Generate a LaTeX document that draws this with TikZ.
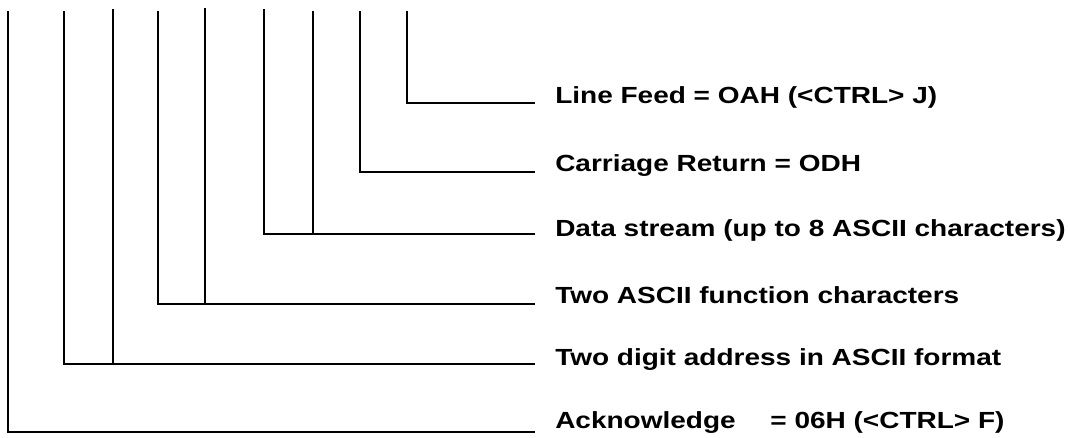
\documentclass[tikz,border=0pt]{standalone}
\usepackage{fontspec}
\newfontfamily\labelfont[FakeStretch=1.2]{Liberation Sans}
\begin{document}
\begin{tikzpicture}[x=0.75pt,y=-0.75pt,
  wire/.style={line width=1.5pt},
  lbl/.style={anchor=base west,inner sep=0pt,
    font=\labelfont\bfseries\fontsize{17.5}{21}\selectfont}]
\useasboundingbox (0,0) rectangle (1070,438);

% field tops (upper ends of the vertical markers)
\coordinate (lf-a)   at (407,11);
\coordinate (cr-a)   at (360,11);
\coordinate (dat-a)  at (264,9);
\coordinate (dat-b)  at (313,11);
\coordinate (fn-a)   at (158,11);
\coordinate (fn-b)   at (205,8);
\coordinate (adr-a)  at (64,11);
\coordinate (adr-b)  at (113,9);
\coordinate (ack-a)  at (7.5,11);

% right ends of the leader lines
\coordinate (lf-e)  at (535,103.5);
\coordinate (cr-e)  at (535,172.5);
\coordinate (dat-e) at (535,234);
\coordinate (fn-e)  at (535,303.5);
\coordinate (adr-e) at (535,363.5);
\coordinate (ack-e) at (535,431.5);

% labels
\node[lbl] (lf)  at (555,104) {Line Feed = OAH (<CTRL> J)};
\node[lbl] (cr)  at (555,172) {Carriage Return = ODH};
\node[lbl] (dat) at (555,237) {Data stream (up to 8 ASCII characters)};
\node[lbl] (fn)  at (555,303) {Two ASCII function characters};
\node[lbl] (adr) at (555,365) {Two digit address in ASCII format};
\node[lbl] (ack) at (555,428) {Acknowledge\hspace{26pt}= 06H (<CTRL> F)};

% leaders
\draw[wire] (lf-a) |- (lf-e);
\draw[wire] (cr-a) |- (cr-e);
\draw[wire] (dat-a) |- (dat-e);
\draw[wire] (dat-b) -- (dat-b |- dat-e);
\draw[wire] (fn-a) |- (fn-e);
\draw[wire] (fn-b) -- (fn-b |- fn-e);
\draw[wire] (adr-a) |- (adr-e);
\draw[wire] (adr-b) -- (adr-b |- adr-e);
\draw[wire] (ack-a) |- (ack-e);
\end{tikzpicture}
\end{document}
